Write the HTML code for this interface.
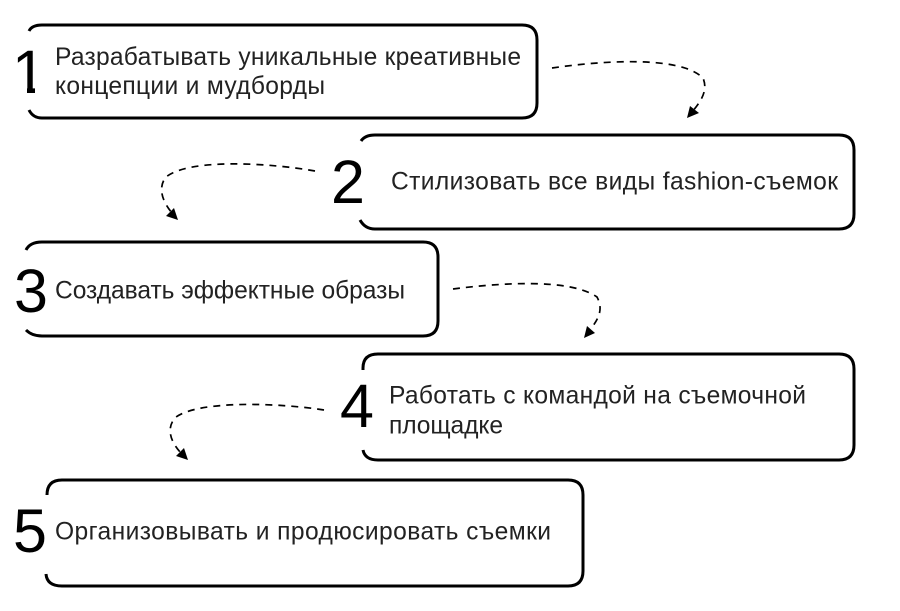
<!DOCTYPE html>
<html lang="ru">
<head>
<meta charset="utf-8">
<title>Шаги</title>
<style>
html,body{margin:0;padding:0;background:#fff;width:900px;height:611px;overflow:hidden}
svg{display:block}
.box{fill:none;stroke:#000;stroke-width:3}
.dash{fill:none;stroke:#000;stroke-width:1.7;stroke-dasharray:7 6}
.t{font-family:"Liberation Sans",sans-serif;font-size:24.6px;fill:#222}
.n{font-family:"Liberation Sans",sans-serif;font-size:61px;fill:#000}
</style>
</head>
<body>
<svg width="900" height="611" viewBox="0 0 900 611" xmlns="http://www.w3.org/2000/svg">
<defs>
<clipPath id="one">
<rect x="0" y="30" width="60" height="58"/>
<rect x="27" y="88" width="8" height="6"/>
</clipPath>
</defs>
<path class="box" d="M29 31 Q32 25 42 25 H522 Q537 25 537 40 V103 Q537 118 522 118 H42 Q33 118 29 110"/>
<path class="box" d="M361 141 Q365 135 375 135 H839 Q854 135 854 150 V214 Q854 229 839 229 H375 Q365 229 360 220"/>
<path class="box" d="M26 250 Q30 242 42 242 H423 Q438 242 438 257 V321 Q438 336 423 336 H42 Q32 336 26 330"/>
<path class="box" d="M363 370 V368 Q363 354 378 354 H839 Q854 354 854 369 V445 Q854 460 839 460 H378 Q365 460 363 450"/>
<path class="box" d="M47 495 Q47 480 62 480 H568 Q583 480 583 495 V571 Q583 586 568 586 H62 Q47 586 46 574"/>

<text class="n" x="12" y="93" clip-path="url(#one)">1</text>
<text class="n" x="331" y="203">2</text>
<text class="n" x="14" y="312">3</text>
<text class="n" x="340" y="427">4</text>
<text class="n" x="13" y="552">5</text>

<text class="t" x="55" y="65" textLength="466" lengthAdjust="spacing">Разрабатывать уникальные креативные</text>
<text class="t" x="55" y="94" textLength="270" lengthAdjust="spacing">концепции и мудборды</text>
<text class="t" x="391" y="189.500" textLength="447" lengthAdjust="spacing">Стилизовать все виды fashion-съемок</text>
<text class="t" x="55" y="298.500" textLength="350" lengthAdjust="spacing">Создавать эффектные образы</text>
<text class="t" x="389" y="403.500" textLength="417" lengthAdjust="spacing">Работать с командой на съемочной</text>
<text class="t" x="389" y="433.500" textLength="114" lengthAdjust="spacing">площадке</text>
<text class="t" x="55" y="539.500" textLength="496" lengthAdjust="spacing">Организовывать и продюсировать съемки</text>

<path class="dash" d="M552 68 C600 61 680 55 703 78 C708 90 702 100 692 112"/>
<polygon points="687,118 690,106 699,113"/>
<path class="dash" d="M315 171 C270 163 190 158 166 177 C157 188 163 203 173 214"/>
<polygon points="178,220 166,216 174,208"/>
<path class="dash" d="M453 289 C500 283 570 278 597 297 C604 310 598 320 589 331"/>
<polygon points="584,338 587,326 595,333"/>
<path class="dash" d="M324 410 C280 403 200 400 176 417 C165 428 171 443 182 454"/>
<polygon points="188,460 176,456 184,448"/>
</svg>
</body>
</html>
